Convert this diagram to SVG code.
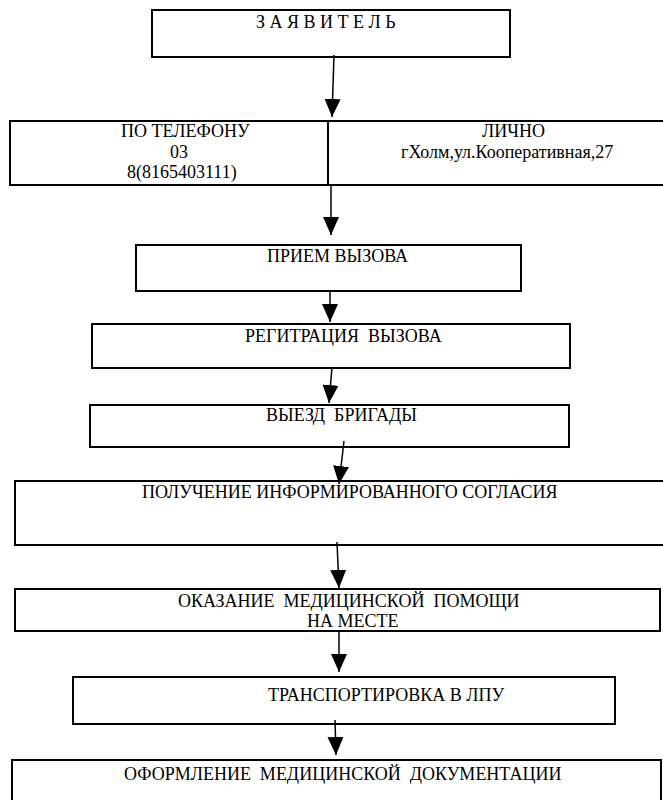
<svg xmlns="http://www.w3.org/2000/svg" width="663" height="800" viewBox="0 0 663 800">
<style>
.box{fill:#fff;stroke:#000;stroke-width:2}
.c{stroke:#000;stroke-width:1.5;fill:none}
.ah{fill:#000}
text{white-space:pre}
</style>
<defs>
<marker id="arr" markerWidth="18" markerHeight="16" refX="18" refY="8" orient="auto" markerUnits="userSpaceOnUse" viewBox="0 0 18 16">
<path d="M0,0 L18,8 L0,16 Z" class="ah"/>
</marker>
</defs>
<rect width="663" height="800" fill="#fff"/>
<g font-family="'Liberation Serif', 'Times New Roman', serif" font-size="18" fill="#000">
<g id="n1"><rect class="box" x="152" y="10" width="358" height="47"/><text x="256" y="28">З А Я В И Т Е Л Ь</text></g>
<g id="n2"><rect class="box" x="10" y="121" width="660" height="64"/><line x1="328" y1="121" x2="328" y2="185" stroke="#000" stroke-width="2"/>
<text x="121" y="137">ПО ТЕЛЕФОНУ</text><text x="170" y="158">03</text><text x="127" y="178">8(8165403111)</text>
<text x="482" y="137">ЛИЧНО</text><text x="401" y="158">гХолм,ул.Кооперативная,27</text></g>
<g id="n3"><rect class="box" x="136" y="245" width="385" height="46"/><text x="267" y="262">ПРИЕМ ВЫЗОВА</text></g>
<g id="n4"><rect class="box" x="92" y="324" width="478" height="44"/><text x="245" y="342">РЕГИТРАЦИЯ  ВЫЗОВА</text></g>
<g id="n5"><rect class="box" x="90" y="405" width="479" height="42"/><text x="266" y="421">ВЫЕЗД  БРИГАДЫ</text></g>
<g id="n6"><rect class="box" x="15" y="481" width="660" height="64"/><text x="142" y="498">ПОЛУЧЕНИЕ ИНФОРМИРОВАННОГО СОГЛАСИЯ</text></g>
<g id="n7"><rect class="box" x="15" y="589" width="645" height="42"/><text x="178" y="607">ОКАЗАНИЕ  МЕДИЦИНСКОЙ  ПОМОЩИ</text><text x="307" y="627">НА МЕСТЕ</text></g>
<g id="n8"><rect class="box" x="73" y="677" width="542" height="47"/><text x="268" y="701">ТРАНСПОРТИРОВКА В ЛПУ</text></g>
<g id="n9"><rect class="box" x="12" y="760" width="649" height="50"/><text x="124" y="780">ОФОРМЛЕНИЕ  МЕДИЦИНСКОЙ  ДОКУМЕНТАЦИИ</text></g>
</g>
<g id="connectors">
<line class="c" x1="334" y1="55" x2="332" y2="117" marker-end="url(#arr)"/>
<line class="c" x1="331" y1="186" x2="331" y2="235" marker-end="url(#arr)"/>
<line class="c" x1="330" y1="291" x2="330" y2="322" marker-end="url(#arr)"/>
<line class="c" x1="332" y1="367" x2="329" y2="403" marker-end="url(#arr)"/>
<line class="c" x1="344" y1="441" x2="339" y2="484" marker-end="url(#arr)"/>
<line class="c" x1="337" y1="542" x2="339" y2="588" marker-end="url(#arr)"/>
<line class="c" x1="339" y1="631" x2="339" y2="672" marker-end="url(#arr)"/>
<line class="c" x1="335" y1="720" x2="336" y2="755" marker-end="url(#arr)"/>
</g>
</svg>
